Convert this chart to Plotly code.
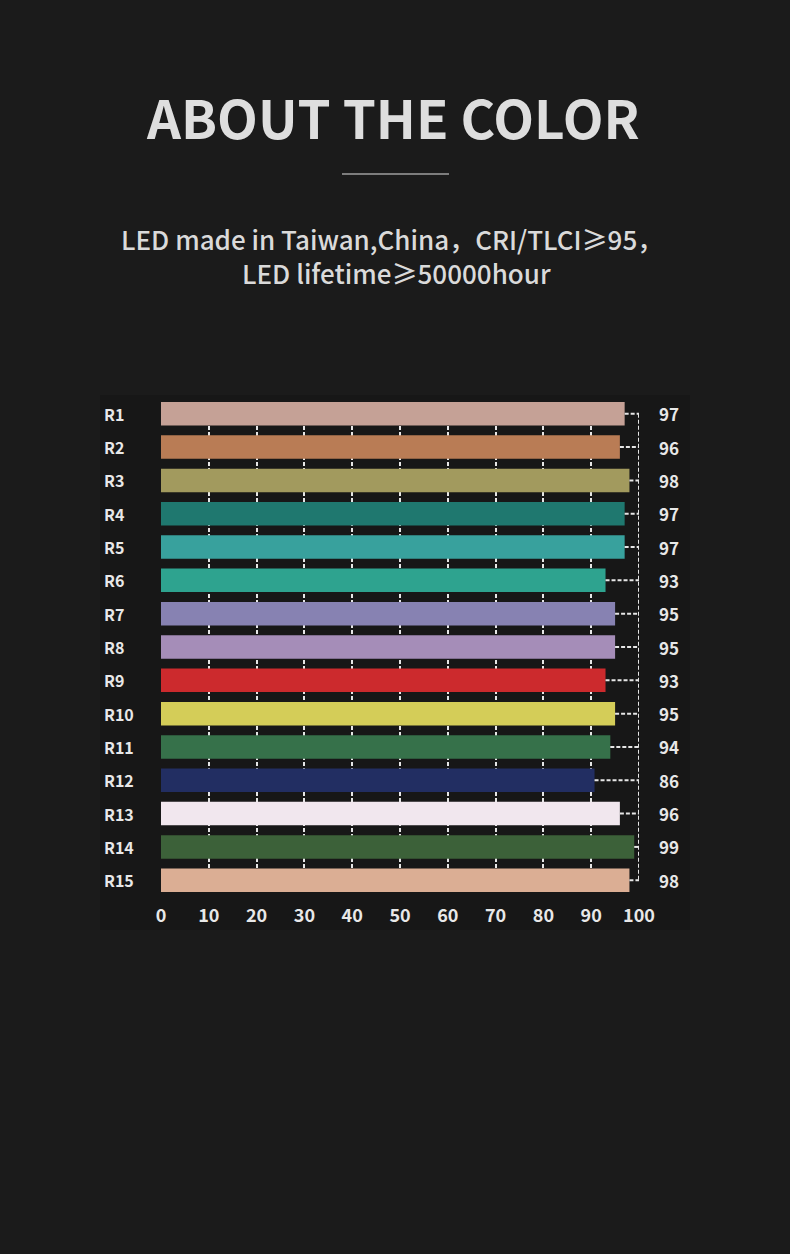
import plotly.graph_objects as go

# ---- data ----
categories = ["R1", "R2", "R3", "R4", "R5", "R6", "R7", "R8", "R9", "R10",
              "R11", "R12", "R13", "R14", "R15"]
bar_values = [97, 96, 98, 97, 97, 93, 95, 95, 93, 95, 94, 90.7, 96, 99, 98]
value_labels = ["97", "96", "98", "97", "97", "93", "95", "95", "93", "95",
                "94", "86", "96", "99", "98"]
bar_colors = ["#c5a196", "#b97c55", "#a29a5e", "#1f786f", "#38a19d", "#2ea38f",
              "#8782b2", "#a58db8", "#cc2a2d", "#d4cd58", "#36714a", "#222e62",
              "#f1e7ee", "#3c6139", "#dbae94"]
x_ticks = [0, 10, 20, 30, 40, 50, 60, 70, 80, 90, 100]
grid_ticks = [0, 10, 20, 30, 40, 50, 60, 70, 80, 90]
x_max = 100

title_text = "ABOUT THE COLOR"
subtitle_1 = "LED made in Taiwan,China，CRI/TLCI≥95，"
subtitle_2 = "LED lifetime≥50000hour"

# ---- layout geometry ----
W, H = 790, 1254
L, R, T, B = 161, 151, 402, 362
PW, PH = W - L - R, H - T - B


def px_x(px):
    return (px - L) / PW


def px_y(py):
    return (H - B - py) / PH


BG = "#1b1b1b"
TXT = "#e8e8e8"
FONT = "Noto Sans CJK SC"

fig = go.Figure()

fig.add_trace(go.Bar(
    y=categories, x=bar_values, orientation="h",
    marker=dict(color=bar_colors, line=dict(width=0)),
    width=0.705, xaxis="x", yaxis="y", showlegend=False, hoverinfo="skip",
))

# dashed connectors from bar ends to the 100 line
cx, cy = [], []
for c, v in zip(categories, bar_values):
    cx += [v, x_max, None]
    cy += [c, c, None]
cx += [x_max, x_max]
cy += [categories[0], categories[-1]]
fig.add_trace(go.Scatter(
    x=cx, y=cy, mode="lines", xaxis="x2", yaxis="y",
    line=dict(color="#e6e6e6", width=2, dash="4px,2px"),
    showlegend=False, hoverinfo="skip", connectgaps=False,
))

annotations = []
for c, lab in zip(categories, value_labels):
    annotations.append(dict(x=px_x(102), xref="paper", y=c, yref="y",
                            text=c, showarrow=False, xanchor="left",
                            font=dict(family=FONT, size=16, color=TXT, weight="bold")))
    annotations.append(dict(x=px_x(657), xref="paper", y=c, yref="y",
                            text=lab, showarrow=False, xanchor="left",
                            font=dict(family=FONT, size=17, color=TXT, weight="bold")))

annotations.append(dict(x=px_x(393), y=px_y(116), xref="paper", yref="paper",
                        text=title_text, showarrow=False, yanchor="middle",
                        font=dict(family=FONT, size=53, color="#dedede", weight="bold")))
annotations.append(dict(x=px_x(392), y=px_y(238), xref="paper", yref="paper",
                        text=subtitle_1, showarrow=False, yanchor="middle",
                        font=dict(family=FONT, size=26, color="#dadada", weight=500)))
annotations.append(dict(x=px_x(396), y=px_y(272), xref="paper", yref="paper",
                        text=subtitle_2, showarrow=False, yanchor="middle",
                        font=dict(family=FONT, size=26, color="#dadada", weight=500)))

shapes = [
    dict(type="rect", xref="paper", yref="paper", layer="below",
         x0=px_x(100), x1=px_x(690), y0=px_y(395), y1=px_y(930),
         fillcolor="#171717", line=dict(width=0)),
    dict(type="line", xref="paper", yref="paper",
         x0=px_x(342), x1=px_x(449), y0=px_y(174), y1=px_y(174),
         line=dict(color="#e0e0e0", width=1.2)),
]

fig.update_layout(
    width=W, height=H,
    margin=dict(l=L, r=R, t=T, b=B, pad=0),
    paper_bgcolor=BG, plot_bgcolor="rgba(0,0,0,0)",
    showlegend=False,
    bargap=0.3,
    xaxis=dict(range=[0, x_max], tickmode="array", tickvals=grid_ticks,
               showticklabels=False, ticks="", showgrid=True,
               gridcolor="#e6e6e6", gridwidth=2, griddash="4px,2px",
               zeroline=False, showline=False, fixedrange=True),
    xaxis2=dict(range=[0, x_max], overlaying="x", anchor="y", side="bottom",
                tickmode="array", tickvals=x_ticks,
                ticktext=[str(t) for t in x_ticks],
                showgrid=False, zeroline=False, showline=False,
                ticks="outside", ticklen=7, tickcolor="rgba(0,0,0,0)",
                tickfont=dict(family=FONT, size=18, color=TXT, weight="bold")),
    yaxis=dict(categoryorder="array", categoryarray=categories,
               range=[len(categories) - 1 + 0.353, -0.353],
               showticklabels=False, showgrid=False, zeroline=False,
               showline=False, ticks=""),
    annotations=annotations,
    shapes=shapes,
)

fig.write_html(
    "out.html",
    config={"displayModeBar": False},
    post_script="document.body.style.margin='0';document.body.style.background='#1b1b1b';document.body.style.overflow='hidden';",
)
